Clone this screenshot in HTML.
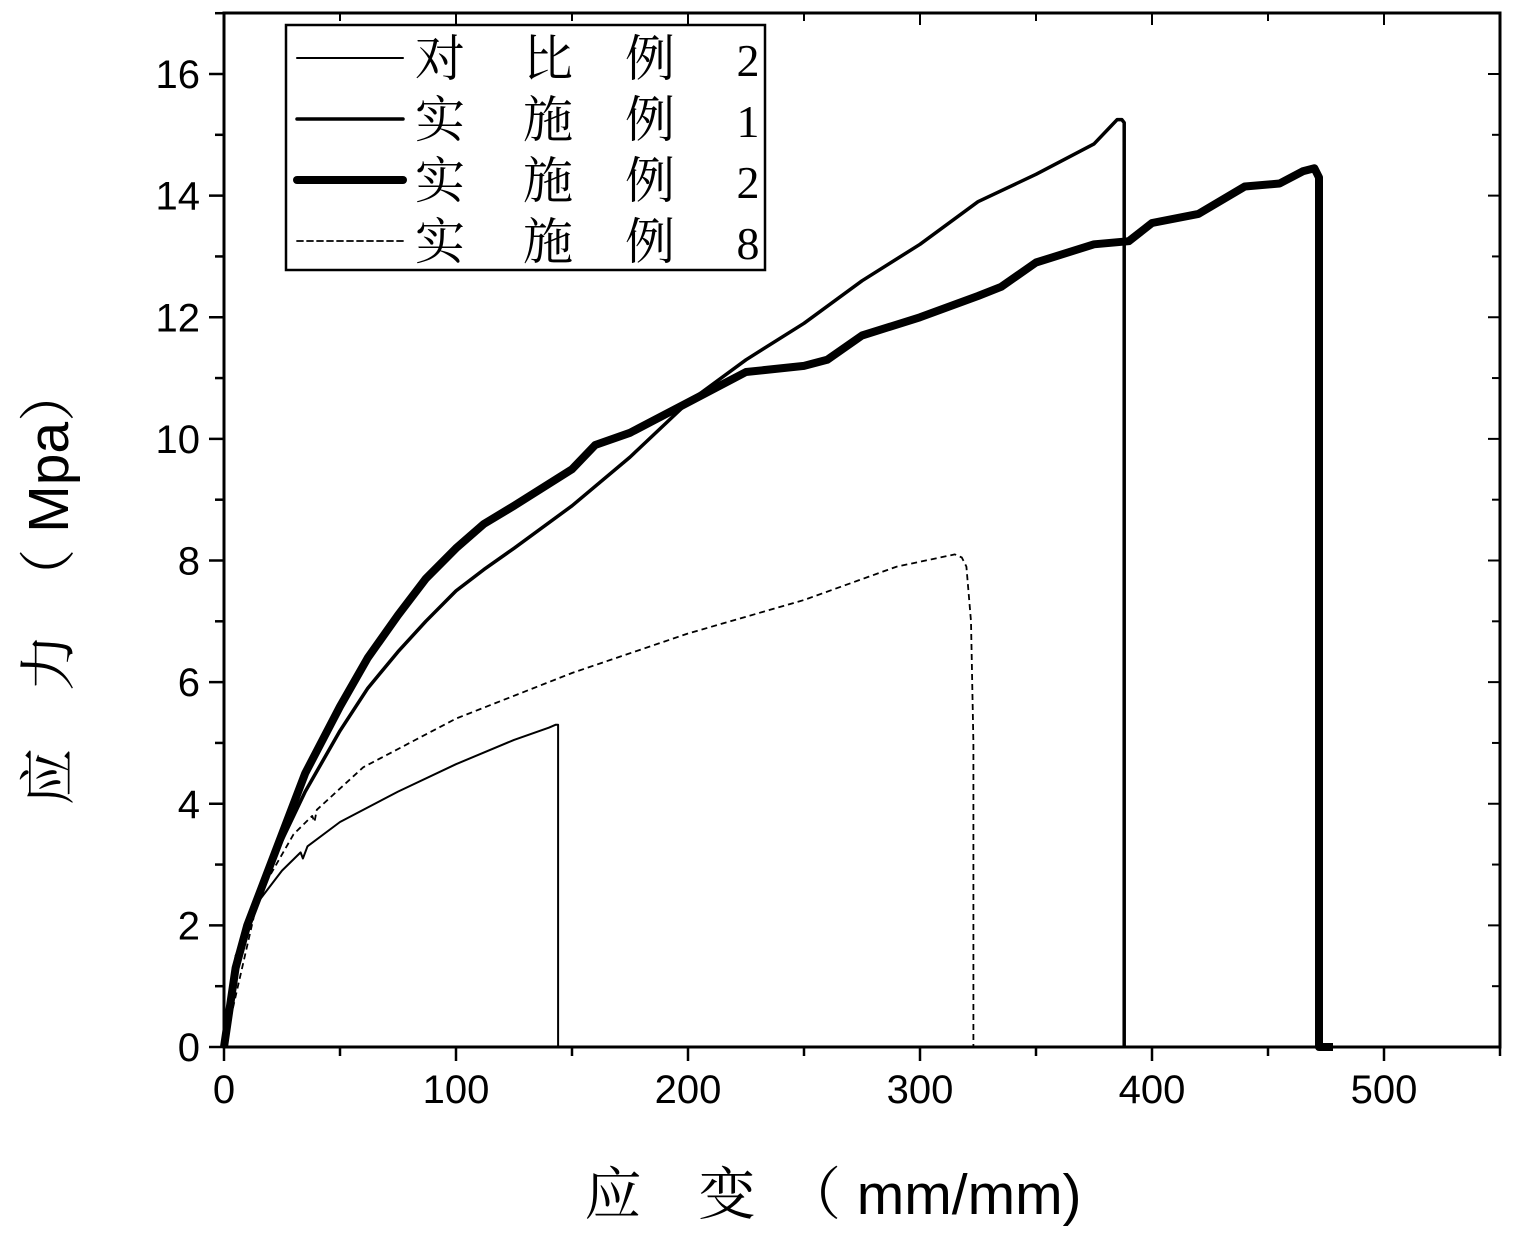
<!DOCTYPE html>
<html><head><meta charset="utf-8"><style>
html,body{margin:0;padding:0;background:#fff;}
svg{display:block;}
</style></head><body>
<svg id="chart" width="1515" height="1239" viewBox="0 0 1515 1239" xmlns="http://www.w3.org/2000/svg">
<g id="axes"></g><g id="series"></g><g id="legend"></g>
<text x="833" y="1214" text-anchor="middle" font-size="57" font-family="Liberation Sans, Noto Serif CJK SC, sans-serif">应　变　（ mm/mm)</text>
<text transform="translate(68,585) rotate(-90)" text-anchor="middle" font-size="57" font-family="Liberation Sans, Noto Serif CJK SC, sans-serif">应　力　（ Mpa）</text>
</svg>
<script>
const xTicks=[0,100,200,300,400,500];
const yTicks=[0,2,4,6,8,10,12,14,16];
const s1x=[0,5,15,25,33,34,36,50,75,100,125,140,143,144,144];
const s1y=[0,1.5,2.4,2.9,3.2,3.1,3.3,3.7,4.2,4.65,5.05,5.25,5.3,5.3,0];
const s2x=[0,5,10,18,25,35,50,62,75,87,100,112,125,150,175,200,225,250,275,300,325,350,375,385,387,388,388];
const s2y=[0,1.3,2,2.8,3.4,4.2,5.2,5.9,6.5,7.0,7.5,7.85,8.2,8.9,9.7,10.6,11.3,11.9,12.6,13.2,13.9,14.35,14.85,15.25,15.25,15.2,0];
const s3x=[0,5,10,18,25,35,50,62,75,87,100,112,125,150,160,175,200,225,250,260,275,300,325,335,350,375,390,400,420,440,455,465,470,472,472,478];
const s3y=[0,1.3,2,2.8,3.5,4.5,5.6,6.4,7.1,7.7,8.2,8.6,8.9,9.5,9.9,10.1,10.6,11.1,11.2,11.3,11.7,12.0,12.35,12.5,12.9,13.2,13.25,13.55,13.7,14.15,14.2,14.4,14.45,14.3,0,0];
const s4x=[0,15,30,38,39,40,60,100,150,200,250,290,315,318,320,322,323,323];
const s4y=[0,2.5,3.5,3.8,3.7,3.9,4.6,5.4,6.15,6.8,7.35,7.9,8.1,8.05,7.9,7.0,5.0,0];
const X0=224,XR=1500,YB=1047,YT=13;
const sx=v=>X0+v*(XR-X0)/550;
const sy=v=>YB-v*(YB-74)/16;
const NS="http://www.w3.org/2000/svg";
function mk(tag,attrs,parent,txt){const e=document.createElementNS(NS,tag);for(const k in attrs)e.setAttribute(k,attrs[k]);if(txt!==undefined)e.textContent=txt;parent.appendChild(e);return e;}
const ax=document.getElementById('axes');
const frame=mk('rect',{x:X0,y:YT,width:XR-X0,height:YB-YT,fill:'none',stroke:'#000','stroke-width':3},ax);


for(let v=0;v<=550;v+=50){const big=v%100===0;
 const t=mk('line',{x1:sx(v),x2:sx(v),y1:YB,y2:YB+(big?14:9),stroke:'#000','stroke-width':2.5},ax);
 
 
 mk('line',{x1:sx(v),x2:sx(v),y1:YT,y2:YT+(big?12:8),stroke:'#000','stroke-width':2},ax);}
xTicks.forEach(v=>{const t=mk('text',{x:sx(v),y:YB+56,'text-anchor':'middle','font-size':40,'font-family':'Liberation Sans, sans-serif'},ax,String(v));
 
 });
for(let v=0;v<=17;v+=1){const big=v%2===0;
 const t=mk('line',{x1:X0,x2:X0-(big?15:9),y1:sy(v),y2:sy(v),stroke:'#000','stroke-width':2.5},ax);
 
 
 mk('line',{x1:XR,x2:XR-(big?12:8),y1:sy(v),y2:sy(v),stroke:'#000','stroke-width':2},ax);}
yTicks.forEach(v=>{const t=mk('text',{x:X0-24,y:sy(v)+14,'text-anchor':'end','font-size':40,'font-family':'Liberation Sans, sans-serif'},ax,String(v));
 
 });
const sg=document.getElementById('series');
function line(xs,ys,w,dash,name){const d=xs.map((x,i)=>(i?'L':'M')+sx(x).toFixed(1)+' '+sy(ys[i]).toFixed(1)).join(' ');
 const p=mk('path',{d:d,fill:'none',stroke:'#000','stroke-width':w,'stroke-linejoin':'round','stroke-dasharray':dash||'none'},sg);
 
 }
line(s4x,s4y,1.8,'6 4','series-example-8');
line(s1x,s1y,2,null,'series-comparative-2');
line(s3x,s3y,8,null,'series-example-2');
line(s2x,s2y,3.5,null,'series-example-1');
const lg=document.getElementById('legend');
const box=mk('rect',{x:286,y:25,width:479,height:245,fill:'#fff',stroke:'#000','stroke-width':2.5},lg);


const labels=[['对','比','例','2'],['实','施','例','1'],['实','施','例','2'],['实','施','例','8']];
const widths=[2,3.5,8,1.8],dashes=[null,null,null,'6 4'];
labels.forEach((l,i)=>{const y=58+i*61;
 const ln=mk('line',{x1:297,x2:403,y1:y,y2:y,stroke:'#000','stroke-width':widths[i],'stroke-linecap':'round','stroke-dasharray':dashes[i]||'none'},lg);
 
 
 const g=mk('g',{},lg);
 
 
 [440,548,650,748].forEach((x,j)=>mk('text',{x:x,y:y+18,'text-anchor':'middle','font-size':j===3?46:50,'font-family':'Liberation Serif, Noto Serif CJK SC, serif'},g,l[j]));});
</script>
</body></html>
